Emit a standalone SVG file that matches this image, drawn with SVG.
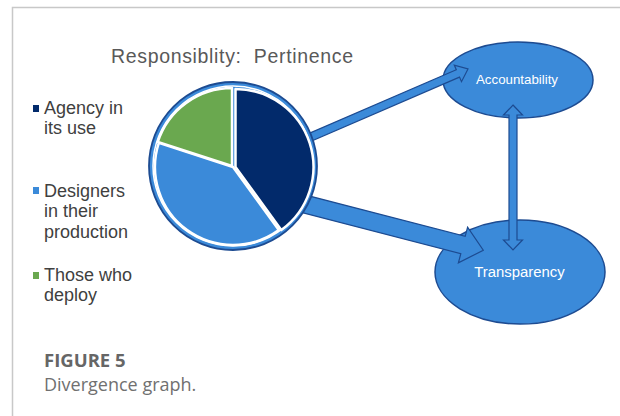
<svg xmlns="http://www.w3.org/2000/svg" width="620" height="416" viewBox="0 0 620 416">
  <style>
    .frame { fill: none; stroke: #c8c8c8; stroke-width: 1.5; }
    .title { font-family: "Liberation Sans", Arial, sans-serif; font-size: 19.5px; fill: #595959; }
    .legend { font-family: "Liberation Sans", Arial, sans-serif; font-size: 18px; fill: #404040; }
    .node { fill: #3b8ad9; stroke: #1d4b91; stroke-width: 1.5; }
    .nodelabel { font-family: "Liberation Sans", Arial, sans-serif; fill: #ffffff; text-anchor: middle; }
    .arrow { fill: #3b8ad9; stroke: #1d4b91; stroke-width: 1.2; stroke-linejoin: miter; }
    .slice { stroke: #ffffff; stroke-width: 2.5; stroke-linejoin: round; }
    .caphead { font-family: "Open Sans", "Liberation Sans", sans-serif; font-size: 18.5px; font-weight: bold; fill: #666666; }
    .captext { font-family: "Open Sans", "Liberation Sans", sans-serif; font-size: 18px; fill: #707070; }
  </style>

  <rect width="620" height="416" fill="#ffffff"/>
  <!-- page frame: top and left rules -->
  <path class="frame" d="M12.5,416 V7.5 H620"/>

  <text class="title" x="111" y="63" xml:space="preserve" textLength="242" lengthAdjust="spacing">Responsiblity:  Pertinence</text>

  <!-- legend -->
  <g id="legend">
    <rect x="33" y="105" width="6" height="7" fill="#022a6b"/>
    <text class="legend" x="44" y="114">Agency in</text>
    <text class="legend" x="44" y="134">its use</text>
    <rect x="33" y="187" width="6" height="7" fill="#3b8ad9"/>
    <text class="legend" x="44" y="197">Designers</text>
    <text class="legend" x="44" y="217">in their</text>
    <text class="legend" x="44" y="238">production</text>
    <rect x="33" y="272" width="6" height="7" fill="#6aa84f"/>
    <text class="legend" x="44" y="281">Those who</text>
    <text class="legend" x="44" y="301">deploy</text>
  </g>

  <g id="accountability">
    <ellipse class="node" cx="518" cy="80" rx="75" ry="38"/>
    <text class="nodelabel" x="517" y="84" font-size="13.3">Accountability</text>
  </g>

  <g id="transparency">
    <ellipse class="node" cx="520" cy="272" rx="85" ry="52"/>
    <text class="nodelabel" x="519.5" y="277" font-size="14.9">Transparency</text>
  </g>

  <g id="connectors">
    <!-- pie to accountability -->
    <polygon class="arrow" points="285.1,152.5 459.5,77.1 461.5,81.7 468,69 454.3,65.1 456.3,69.7 281.9,145.1"/>
    <!-- pie to transparency -->
    <polygon class="arrow" points="286.8,208.7 460.8,253.7 458.4,262.9 483.3,250.2 467.6,227.1 465.2,236.3 291.2,191.3"/>
    <!-- accountability to transparency, both ways -->
    <polygon class="arrow" points="513,105 522.5,115 517,115 517,240 522.5,240 513,250 503.5,240 509,240 509,115 503.5,115"/>
  </g>

  <g id="pertinence-pie">
    <circle cx="233" cy="166" r="84" fill="#3b8ad9" stroke="#1d4b91" stroke-width="1.8"/>
    <circle cx="233" cy="166" r="80" fill="none" stroke="#ffffff" stroke-width="1.5"/>
    <!-- agency in its use: 40% -->
    <path class="slice" fill="#022a6b" transform="translate(2.5,0)" d="M233,167 L233,89 A78,78 0 0 1 278.8,230.1 Z"/>
    <!-- designers in their production: 40% -->
    <path class="slice" fill="#3b8ad9" d="M233,167 L278.8,230.1 A78,78 0 0 1 158.8,142.9 Z"/>
    <!-- those who deploy: 20% -->
    <path class="slice" fill="#6aa84f" transform="translate(-1,-1)" d="M233,167 L158.8,142.9 A78,78 0 0 1 233,89 Z"/>
  </g>

  <text class="caphead" x="44" y="367">FIGURE 5</text>
  <text class="captext" x="44" y="391">Divergence graph.</text>
</svg>
